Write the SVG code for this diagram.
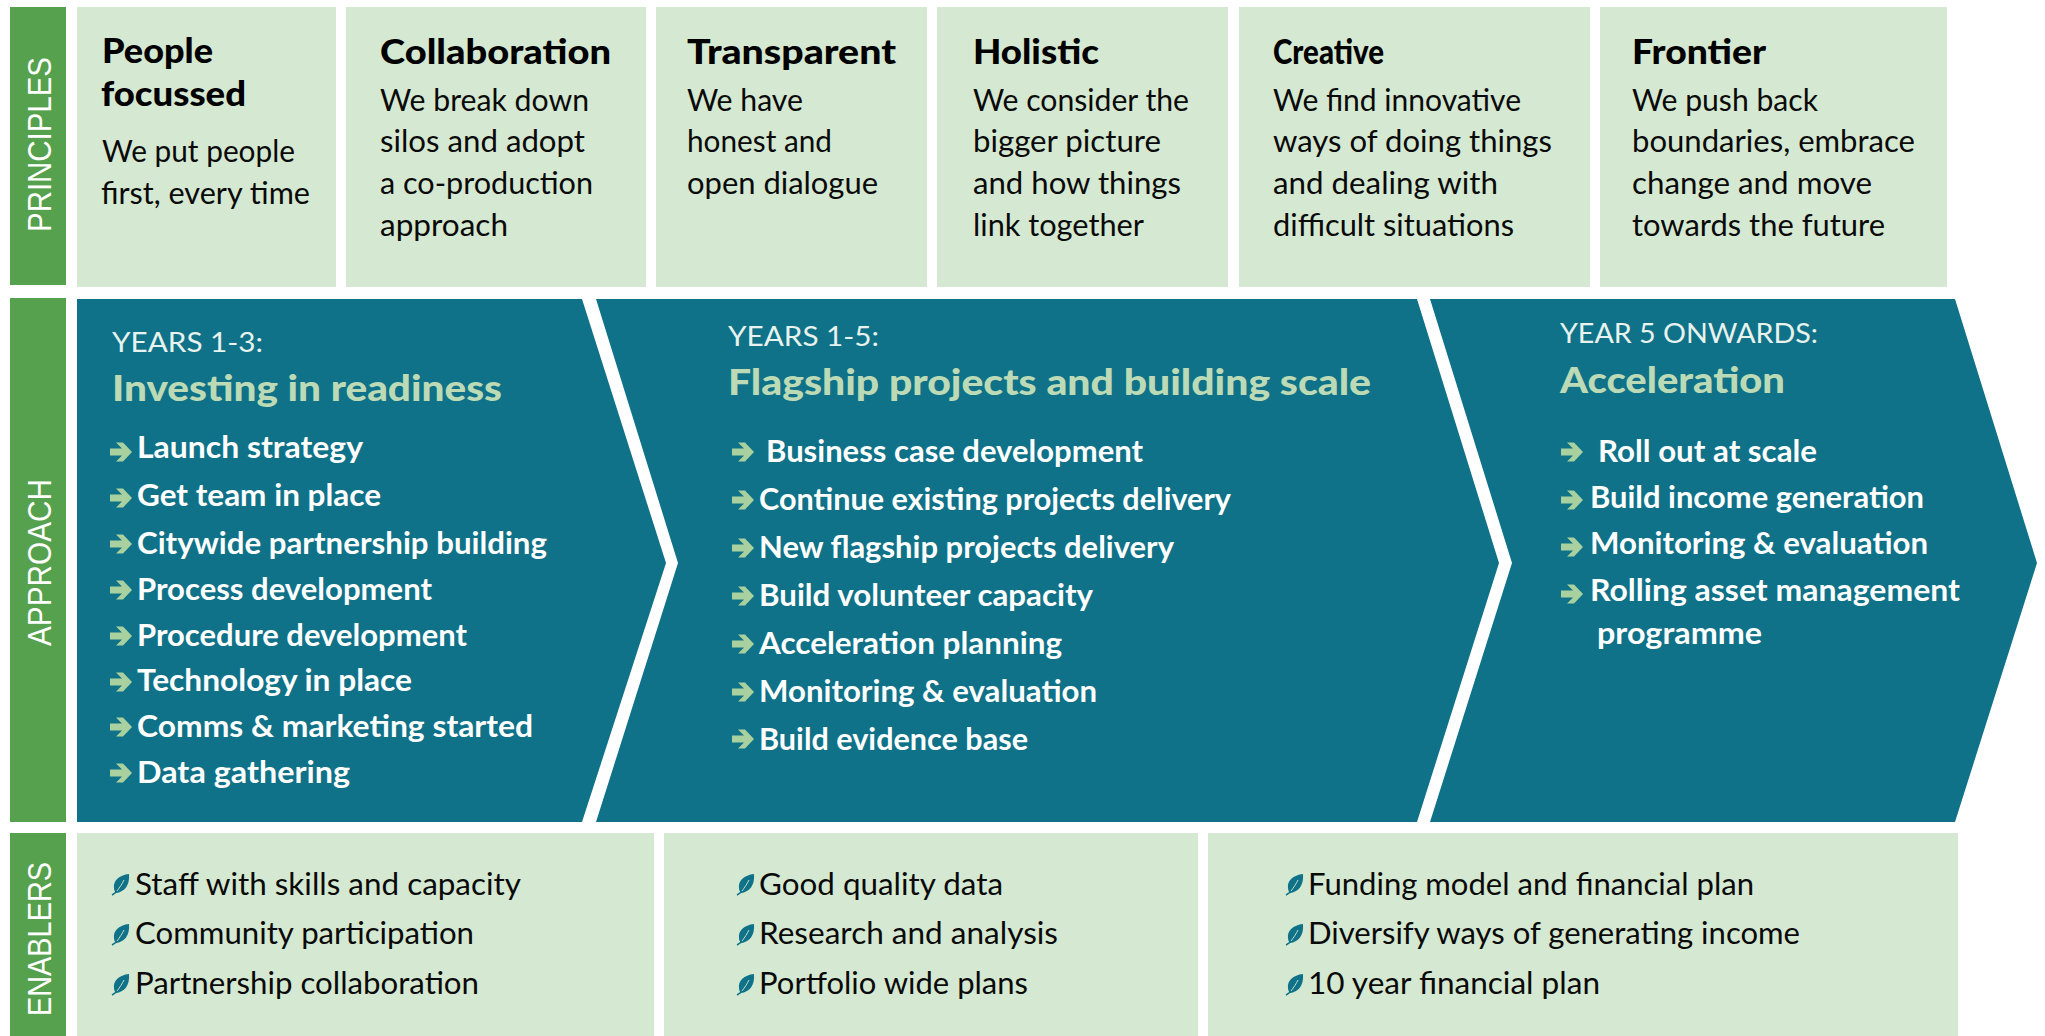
<svg xmlns="http://www.w3.org/2000/svg" width="2045" height="1036" viewBox="0 0 2045 1036">
<style>
text{font-family:"Lato","Liberation Sans",sans-serif;}
.bar{fill:#56a14d}
.box{fill:#d5e8d1}
.chev{fill:#0f7288}
.side{font-family:"Liberation Sans",Arial,sans-serif;font-size:33px;fill:#fff;}
.h{font-size:34px;font-weight:900;fill:#000}
.b{font-size:30px;fill:#0a0a0a}
.y{font-size:26px;fill:#e8f2ee}
.t{font-size:36px;font-weight:900;fill:#bcdab5}
.l{font-size:30px;font-weight:700;fill:#fff}
.e{font-size:30px;fill:#0a0a0a}
</style>
<defs>
<path id="arrow" fill="#a9d09f" d="M0 -3.5H12L6 -9.5H13L22 0L13 9.5H6L12 3.5H0Z"/>
<g id="leaf"><path fill="#0f7288" d="M17 -11C7 -10 1 -4 2 3C2 5 3 7 4 8C12 7 18 1 17 -11Z"/><path fill="none" stroke="#0f7288" stroke-width="1.4" d="M0 10C2 9 4 8 6 5"/><path fill="none" stroke="#d5e8d1" stroke-width="0.9" d="M5 6C8 2 10 -1 12 -5"/></g>
</defs>
<rect width="2045" height="1036" fill="#fff"/>
<g id="principles">
<rect class="bar" x="10" y="7" width="56" height="278"/>
<text class="side" transform="translate(51,232) rotate(-90)" textLength="175" lengthAdjust="spacingAndGlyphs">PRINCIPLES</text>
</g>
<g id="p1"><rect class="box" x="77" y="7" width="259" height="280"/>
<text class="h" x="102" y="63" textLength="111" lengthAdjust="spacingAndGlyphs">People</text>
<text class="h" x="101" y="106" textLength="145" lengthAdjust="spacingAndGlyphs">focussed</text>
<text class="b" x="102" y="162" textLength="193" lengthAdjust="spacingAndGlyphs">We put people</text>
<text class="b" x="101" y="204" textLength="209" lengthAdjust="spacingAndGlyphs">first, every time</text></g>
<g id="p2"><rect class="box" x="346" y="7" width="300" height="280"/>
<text class="h" x="380" y="64" textLength="231" lengthAdjust="spacingAndGlyphs">Collaboration</text>
<text class="b" x="380" y="111" textLength="209" lengthAdjust="spacingAndGlyphs">We break down</text>
<text class="b" x="380" y="152" textLength="205" lengthAdjust="spacingAndGlyphs">silos and adopt</text>
<text class="b" x="380" y="194" textLength="213" lengthAdjust="spacingAndGlyphs">a co-production</text>
<text class="b" x="380" y="236" textLength="128" lengthAdjust="spacingAndGlyphs">approach</text></g>
<g id="p3"><rect class="box" x="656" y="7" width="271" height="280"/>
<text class="h" x="687" y="64" textLength="209" lengthAdjust="spacingAndGlyphs">Transparent</text>
<text class="b" x="687" y="111" textLength="116" lengthAdjust="spacingAndGlyphs">We have</text>
<text class="b" x="687" y="152" textLength="145" lengthAdjust="spacingAndGlyphs">honest and</text>
<text class="b" x="687" y="194" textLength="191" lengthAdjust="spacingAndGlyphs">open dialogue</text></g>
<g id="p4"><rect class="box" x="937" y="7" width="291" height="280"/>
<text class="h" x="973" y="64" textLength="126" lengthAdjust="spacingAndGlyphs">Holistic</text>
<text class="b" x="973" y="111" textLength="216" lengthAdjust="spacingAndGlyphs">We consider the</text>
<text class="b" x="973" y="152" textLength="188" lengthAdjust="spacingAndGlyphs">bigger picture</text>
<text class="b" x="973" y="194" textLength="208" lengthAdjust="spacingAndGlyphs">and how things</text>
<text class="b" x="973" y="236" textLength="171" lengthAdjust="spacingAndGlyphs">link together</text></g>
<g id="p5"><rect class="box" x="1239" y="7" width="351" height="280"/>
<text class="h" x="1273" y="64" textLength="111" lengthAdjust="spacingAndGlyphs">Creative</text>
<text class="b" x="1273" y="111" textLength="248" lengthAdjust="spacingAndGlyphs">We find innovative</text>
<text class="b" x="1273" y="152" textLength="279" lengthAdjust="spacingAndGlyphs">ways of doing things</text>
<text class="b" x="1273" y="194" textLength="225" lengthAdjust="spacingAndGlyphs">and dealing with</text>
<text class="b" x="1273" y="236" textLength="241" lengthAdjust="spacingAndGlyphs">difficult situations</text></g>
<g id="p6"><rect class="box" x="1600" y="7" width="347" height="280"/>
<text class="h" x="1632" y="64" textLength="134" lengthAdjust="spacingAndGlyphs">Frontier</text>
<text class="b" x="1632" y="111" textLength="186" lengthAdjust="spacingAndGlyphs">We push back</text>
<text class="b" x="1632" y="152" textLength="283" lengthAdjust="spacingAndGlyphs">boundaries, embrace</text>
<text class="b" x="1632" y="194" textLength="240" lengthAdjust="spacingAndGlyphs">change and move</text>
<text class="b" x="1632" y="236" textLength="253" lengthAdjust="spacingAndGlyphs">towards the future</text></g>
<g id="approach"><rect class="bar" x="10" y="298" width="56" height="524"/>
<text class="side" transform="translate(51,646) rotate(-90)" textLength="167" lengthAdjust="spacingAndGlyphs">APPROACH</text></g>
<g id="a1"><path class="chev" d="M77 299H582L666 563L582 822H77Z"/>
<text class="y" x="112" y="352" textLength="151" lengthAdjust="spacingAndGlyphs">YEARS 1-3:</text>
<text class="t" x="112" y="401" textLength="390" lengthAdjust="spacingAndGlyphs">Investing in readiness</text>
<use href="#arrow" x="110" y="452"/><text class="l" x="137" y="458" textLength="226" lengthAdjust="spacingAndGlyphs">Launch strategy</text>
<use href="#arrow" x="110" y="498"/><text class="l" x="137" y="506" textLength="244" lengthAdjust="spacingAndGlyphs">Get team in place</text>
<use href="#arrow" x="110" y="544"/><text class="l" x="137" y="554" textLength="410" lengthAdjust="spacingAndGlyphs">Citywide partnership building</text>
<use href="#arrow" x="110" y="590"/><text class="l" x="137" y="600" textLength="295" lengthAdjust="spacingAndGlyphs">Process development</text>
<use href="#arrow" x="110" y="636"/><text class="l" x="137" y="646" textLength="330" lengthAdjust="spacingAndGlyphs">Procedure development</text>
<use href="#arrow" x="110" y="682"/><text class="l" x="137" y="691" textLength="275" lengthAdjust="spacingAndGlyphs">Technology in place</text>
<use href="#arrow" x="110" y="727"/><text class="l" x="137" y="737" textLength="396" lengthAdjust="spacingAndGlyphs">Comms &amp; marketing started</text>
<use href="#arrow" x="110" y="773"/><text class="l" x="137" y="783" textLength="213" lengthAdjust="spacingAndGlyphs">Data gathering</text></g>
<g id="a2"><path class="chev" d="M596 299H1417L1499 563L1417 822H596L678 563Z"/>
<text class="y" x="728" y="346" textLength="151" lengthAdjust="spacingAndGlyphs">YEARS 1-5:</text>
<text class="t" x="728" y="395" textLength="643" lengthAdjust="spacingAndGlyphs">Flagship projects and building scale</text>
<use href="#arrow" x="732" y="452"/><text class="l" x="766" y="462" textLength="377" lengthAdjust="spacingAndGlyphs">Business case development</text>
<use href="#arrow" x="732" y="500"/><text class="l" x="759" y="510" textLength="472" lengthAdjust="spacingAndGlyphs">Continue existing projects delivery</text>
<use href="#arrow" x="732" y="548"/><text class="l" x="759" y="558" textLength="415" lengthAdjust="spacingAndGlyphs">New flagship projects delivery</text>
<use href="#arrow" x="732" y="596"/><text class="l" x="759" y="606" textLength="334" lengthAdjust="spacingAndGlyphs">Build volunteer capacity</text>
<use href="#arrow" x="732" y="644"/><text class="l" x="759" y="654" textLength="303" lengthAdjust="spacingAndGlyphs">Acceleration planning</text>
<use href="#arrow" x="732" y="692"/><text class="l" x="759" y="702" textLength="338" lengthAdjust="spacingAndGlyphs">Monitoring &amp; evaluation</text>
<use href="#arrow" x="732" y="739"/><text class="l" x="759" y="750" textLength="269" lengthAdjust="spacingAndGlyphs">Build evidence base</text></g>
<g id="a3"><path class="chev" d="M1430 299H1955L2037 563L1955 822H1430L1512 563Z"/>
<text class="y" x="1560" y="343" textLength="258" lengthAdjust="spacingAndGlyphs">YEAR 5 ONWARDS:</text>
<text class="t" x="1560" y="393" textLength="225" lengthAdjust="spacingAndGlyphs">Acceleration</text>
<use href="#arrow" x="1561" y="452"/><text class="l" x="1598" y="462" textLength="219" lengthAdjust="spacingAndGlyphs">Roll out at scale</text>
<use href="#arrow" x="1561" y="500"/><text class="l" x="1590" y="508" textLength="334" lengthAdjust="spacingAndGlyphs">Build income generation</text>
<use href="#arrow" x="1561" y="547"/><text class="l" x="1590" y="554" textLength="338" lengthAdjust="spacingAndGlyphs">Monitoring &amp; evaluation</text>
<use href="#arrow" x="1561" y="594"/><text class="l" x="1590" y="601" textLength="370" lengthAdjust="spacingAndGlyphs">Rolling asset management</text>
<text class="l" x="1597" y="644" textLength="165" lengthAdjust="spacingAndGlyphs">programme</text></g>
<g id="enablers"><rect class="bar" x="10" y="833" width="56" height="203"/>
<text class="side" transform="translate(51,1016) rotate(-90)" textLength="154" lengthAdjust="spacingAndGlyphs">ENABLERS</text></g>
<g id="e1"><rect class="box" x="77" y="833" width="577" height="203"/>
<use href="#leaf" x="112" y="885"/><text class="e" x="135" y="895" textLength="386" lengthAdjust="spacingAndGlyphs">Staff with skills and capacity</text>
<use href="#leaf" x="112" y="935"/><text class="e" x="135" y="944" textLength="339" lengthAdjust="spacingAndGlyphs">Community participation</text>
<use href="#leaf" x="112" y="985"/><text class="e" x="135" y="994" textLength="344" lengthAdjust="spacingAndGlyphs">Partnership collaboration</text></g>
<g id="e2"><rect class="box" x="664" y="833" width="534" height="203"/>
<use href="#leaf" x="737" y="885"/><text class="e" x="759" y="895" textLength="244" lengthAdjust="spacingAndGlyphs">Good quality data</text>
<use href="#leaf" x="737" y="935"/><text class="e" x="759" y="944" textLength="299" lengthAdjust="spacingAndGlyphs">Research and analysis</text>
<use href="#leaf" x="737" y="985"/><text class="e" x="759" y="994" textLength="269" lengthAdjust="spacingAndGlyphs">Portfolio wide plans</text></g>
<g id="e3"><rect class="box" x="1208" y="833" width="750" height="203"/>
<use href="#leaf" x="1286" y="885"/><text class="e" x="1308" y="895" textLength="446" lengthAdjust="spacingAndGlyphs">Funding model and financial plan</text>
<use href="#leaf" x="1286" y="935"/><text class="e" x="1308" y="944" textLength="492" lengthAdjust="spacingAndGlyphs">Diversify ways of generating income</text>
<use href="#leaf" x="1286" y="985"/><text class="e" x="1308" y="994" textLength="292" lengthAdjust="spacingAndGlyphs">10 year financial plan</text></g>
<g id="connectors"></g>
</svg>
